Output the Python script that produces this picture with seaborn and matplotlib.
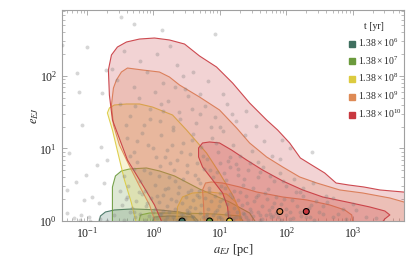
import numpy as np
import pandas as pd
import matplotlib
matplotlib.use("Agg")
import matplotlib.pyplot as plt
from matplotlib.lines import Line2D
import seaborn as sns

# contour outlines as (log10 a_EJ, log10 e_EJ)
times = ["6", "7", "8", "9", "10"]
colors = ["#3f6f5f", "#6b9a3c", "#dccb3f", "#de8a55", "#c8383f"]

teal_outer_loga = [-0.845, -0.799, -0.724, -0.588, -0.317, 0.090, 0.392, 0.573, 0.694]
teal_outer_loge = [-0.1, 0.069, 0.124, 0.152, 0.166, 0.152, 0.124, 0.083, -0.1]
teal_inner_loga = [-0.060, 0.015, 0.241, 0.618, 0.769]
teal_inner_loge = [-0.1, 0.055, 0.069, 0.055, -0.1]

green_outer_loga = [-0.618, -0.618, -0.573, -0.483, -0.362, -0.106, 0.090, 0.317, 0.694, 1.146, 1.448, 1.599]
green_outer_loge = [-0.1, 0.469, 0.621, 0.690, 0.717, 0.731, 0.690, 0.621, 0.441, 0.262, 0.110, -0.1]
green_inner_loga = [-0.241, -0.196, -0.060, 0.392, 0.920, 1.297, 1.418]
green_inner_loge = [-0.1, 0.083, 0.110, 0.110, 0.097, 0.069, -0.1]

yellow_outer_loga = [-0.241, -0.332, -0.437, -0.528, -0.618, -0.694, -0.664, -0.588, -0.407, -0.211,
                     -0.015, 0.287, 0.498, 0.799, 0.995, 1.192, 1.297, 1.342]
yellow_outer_loge = [-0.1, 0.248, 0.566, 0.910, 1.255, 1.490, 1.559, 1.600, 1.614, 1.614,
                     1.572, 1.462, 1.255, 0.938, 0.662, 0.359, 0.152, -0.1]
yellow_inner_loga = [0.347, 0.362, 0.437, 0.588, 0.845, 1.101, 1.237, 1.297, 1.312]
yellow_inner_loge = [-0.1, 0.193, 0.331, 0.386, 0.400, 0.372, 0.262, 0.124, -0.1]

orange_outer_loga = [0.060, -0.060, -0.211, -0.362, -0.513, -0.603, -0.633, -0.603, -0.558, -0.483,
                     -0.392, -0.166, 0.090, 0.241, 0.392, 0.694, 0.995, 1.252, 1.448, 1.704,
                     1.946, 2.202, 2.459, 2.805, 3.152, 3.560, 3.771, 4.2, 4.2]
orange_outer_loge = [-0.1, 0.221, 0.483, 0.759, 1.048, 1.324, 1.600, 1.834, 1.945, 2.055,
                     2.110, 2.083, 2.055, 1.986, 1.876, 1.710, 1.531, 1.283, 1.076, 0.883,
                     0.745, 0.607, 0.524, 0.428, 0.386, 0.317, 0.262, 0.2, -0.1]
orange_inner_loga = [0.769, 0.754, 0.739, 0.784, 0.875, 1.041, 1.297, 1.554, 1.946, 2.308,
                     2.655, 2.881, 2.986, 3.017]
orange_inner_loge = [-0.1, 0.221, 0.428, 0.524, 0.538, 0.524, 0.469, 0.400, 0.331, 0.290,
                     0.221, 0.152, 0.083, -0.1]

red_outer_loga = [0.166, 0.015, -0.136, -0.392, -0.618, -0.664, -0.679, -0.633, -0.543, -0.407,
                  -0.211, 0.015, 0.241, 0.468, 0.694, 0.950, 1.192, 1.448, 1.704, 1.870,
                  2.051, 2.212, 2.383, 2.579, 2.750, 2.935, 3.168, 3.409, 3.756, 4.2, 4.2]
red_outer_loge = [-0.1, 0.221, 0.455, 0.841, 1.393, 1.738, 2.083, 2.290, 2.400, 2.469,
                  2.510, 2.524, 2.497, 2.441, 2.276, 2.124, 1.903, 1.628, 1.393, 1.255,
                  1.076, 0.869, 0.772, 0.662, 0.524, 0.497, 0.469, 0.428, 0.400, 0.37, -0.1]
red_inner_loga = [1.146, 1.116, 1.041, 0.890, 0.739, 0.679, 0.679, 0.739, 0.845, 0.995,
                  1.176, 1.403, 1.644, 1.946, 2.247, 2.549, 2.911, 3.258, 3.484, 3.560,
                  3.484, 3.379]
red_inner_loge = [-0.1, 0.193, 0.386, 0.566, 0.745, 0.883, 1.007, 1.076, 1.090, 1.076,
                  0.979, 0.841, 0.703, 0.552, 0.428, 0.331, 0.262, 0.193, 0.138, 0.083,
                  0.028, -0.1]

# median markers
median_a = [2.7, 7.0, 14.0, 80.0, 200.0]
median_e = [1.0, 1.0, 1.0, 1.35, 1.35]

# ejected binaries (log10 a, log10 e)
scatter_loga = [
    -1.373, -0.995, -1.146, -1.116, -1.071, -1.267, -1.011, -1.161, -1.297, -1.297,
    -0.483, -0.287, 0.121, 0.920, -0.709, -0.769, -0.845, -0.920, -1.041, 1.931,
    2.383, -0.784, -0.694, -0.739, -0.814, -1.086, -0.965, -1.191,
    -0.45, -0.2, 0.05, 0.35, 0.6, -0.55, -0.3, 0.15, 0.48, 0.82, 1.05, -0.1, 0.25, -0.62,
    -0.5, -0.35, -0.22, -0.05, 0.1, 0.22, 0.38, 0.52, 0.64, 0.78, 0.92, 1.1, 1.25, 1.4,
    -0.42, 0.02, 0.3, 0.7, 1.55, 0.15, -0.15, 1.0,
    -0.4, -0.3, -0.18, -0.08, 0.04, 0.12, 0.2, 0.3, 0.36, 0.45, 0.55, 0.6, 0.72, 0.8,
    0.88, 0.97, 1.05, 1.12, 1.2, 1.3, 1.38, 1.48, 1.57, 1.66, 1.78, 1.9, 0.25, -0.25,
    0.65, 1.0, 2.05,
    -0.45, -0.38, -0.3, -0.2, -0.12, -0.05, 0.03, 0.1, 0.17, 0.24, 0.31, 0.38, 0.44, 0.5,
    0.57, 0.63, 0.7, 0.76, 0.83, 0.9, 0.96, 1.02, 1.09, 1.15, 1.22, 1.28, 1.35, 1.42,
    1.5, 1.58, 1.65, 1.73, 1.82, 1.9, 2.0, 2.12, 2.25, 2.4, -0.5, 0.68, 1.25,
    -0.48, -0.4, -0.33, -0.26, -0.18, -0.11, -0.04, 0.02, 0.08, 0.14, 0.2, 0.26, 0.32,
    0.37, 0.43, 0.49, 0.55, 0.6, 0.66, 0.71, 0.77, 0.82, 0.87, 0.93, 0.98, 1.04, 1.1,
    1.15, 1.21, 1.27, 1.33, 1.39, 1.45, 1.52, 1.58, 1.64, 1.71, 1.78, 1.85, 1.92, 2.0,
    2.08, 2.16, 2.25, 2.34, 2.45, 2.55, 2.7, 2.85, 3.0, 0.5, 1.0,
    -0.8, -0.6, -0.45, -0.36, -0.28, -0.2, -0.13, -0.06, 0.0, 0.06, 0.12, 0.18, 0.24,
    0.3, 0.35, 0.41, 0.47, 0.53, 0.58, 0.64, 0.7, 0.75, 0.81, 0.86, 0.92, 0.97, 1.03,
    1.09, 1.14, 1.2, 1.26, 1.31, 1.37, 1.43, 1.5, 1.57, 1.63, 1.7, 1.77, 1.84, 1.92,
    2.0, 2.1, 2.2, 2.3, 2.42, 2.55, 2.7, 2.9, 3.2, -0.95, -1.1, -0.7,
    -0.35, -0.25, -0.15, 0.0, 0.08, 0.18, 0.28, 0.33, 0.42, 0.5, 0.58, 0.67, 0.74,
    0.85, 0.94, 1.06, 1.16, 1.27, 1.36, 1.46, 1.6, 1.75, 1.95, 2.2, 2.6,
    -0.42, -0.3, -0.22, -0.1, 0.05, 0.15, 0.22, 0.34, 0.45, 0.52, 0.62, 0.68, 0.79,
    0.84, 0.95, 1.0, 1.07, 1.12, 1.18, 1.24, 1.3, 1.41, 1.47, 1.55, 1.61, 1.68, 1.74,
    1.81, 1.88, 1.96, 2.05, 2.14, 2.22, 2.38, 2.5, 2.62, 2.78, 3.05, 3.35,
    -0.05, 0.12, 0.4, 0.58, 0.86, 0.32, -0.28, 0.7, 1.18, 0.45,
    0.0, 0.2, 0.4, 0.6, 0.8, 1.0, 1.2, 1.4, 1.6, 1.8, 2.05, 2.35, 0.1, 0.5, 0.9, 1.35, 1.75,
]
scatter_loge = [
    2.428, 2.400, 2.041, 1.779, 1.324, 0.938, 0.634, 0.538, 0.428, 0.110,
    2.814, 2.717, 2.634, 2.579, 2.083, 1.766, 0.772, 0.331, 0.290, 1.117,
    0.952, 1.021, 0.841, 0.524, 0.248, 0.083, 0.055, 0.041,
    2.35, 2.2, 2.3, 2.15, 2.05, 1.95, 1.85, 1.9, 1.82, 1.93, 1.75, 2.05, 2.42, 2.1,
    1.62, 1.45, 1.7, 1.55, 1.38, 1.65, 1.5, 1.72, 1.35, 1.58, 1.44, 1.62, 1.38, 1.52,
    1.33, 1.78, 1.3, 1.48, 1.31, 1.52, 1.32, 1.3,
    1.15, 0.95, 1.22, 1.05, 0.88, 1.18, 0.98, 1.25, 0.84, 1.08, 0.92, 1.2, 1.02, 0.86,
    1.15, 0.95, 1.24, 0.83, 1.05, 0.9, 1.18, 0.97, 0.82, 1.1, 0.9, 0.85, 0.8, 0.82,
    0.8, 0.8, 1.0,
    0.62, 0.48, 0.72, 0.55, 0.42, 0.66, 0.5, 0.76, 0.44, 0.6, 0.7, 0.47, 0.58, 0.77,
    0.43, 0.64, 0.52, 0.72, 0.45, 0.6, 0.68, 0.48, 0.57, 0.75, 0.42, 0.63, 0.5, 0.7,
    0.46, 0.6, 0.74, 0.44, 0.55, 0.66, 0.48, 0.58, 0.45, 0.52, 0.41, 0.41, 0.78,
    0.22, 0.33, 0.18, 0.28, 0.37, 0.2, 0.31, 0.16, 0.26, 0.36, 0.21, 0.3, 0.17,
    0.38, 0.25, 0.33, 0.19, 0.29, 0.36, 0.22, 0.31, 0.16, 0.27, 0.35, 0.2, 0.3, 0.24,
    0.37, 0.18, 0.29, 0.22, 0.34, 0.17, 0.27, 0.36, 0.21, 0.3, 0.19, 0.33, 0.24, 0.16,
    0.29, 0.21, 0.35, 0.18, 0.27, 0.2, 0.31, 0.17, 0.24, 0.15, 0.39,
    0.03, 0.08, 0.02, 0.12, 0.05, 0.1, 0.01, 0.07, 0.13, 0.04, 0.09, 0.02, 0.12,
    0.06, 0.01, 0.1, 0.04, 0.13, 0.07, 0.02, 0.11, 0.05, 0.09, 0.01, 0.13, 0.06, 0.03,
    0.1, 0.07, 0.02, 0.12, 0.05, 0.09, 0.01, 0.07, 0.12, 0.03, 0.08, 0.05, 0.11, 0.02,
    0.08, 0.04, 0.12, 0.06, 0.02, 0.09, 0.05, 0.03, 0.06, 0.0, 0.01, 0.0,
    0.9, 1.1, 0.7, 1.0, 0.62, 0.88, 1.05, 0.55, 0.95, 0.68, 1.12, 0.58, 0.9,
    0.7, 1.08, 0.66, 0.88, 0.72, 0.58, 0.8, 0.68, 0.62, 0.55, 0.4, 0.35,
    0.3, 0.12, 0.4, 0.25, 0.35, 0.14, 0.45, 0.28, 0.08, 0.4, 0.18, 0.33, 0.07,
    0.42, 0.15, 0.28, 0.45, 0.13, 0.33, 0.06, 0.4, 0.25, 0.12, 0.33, 0.08, 0.38, 0.15,
    0.25, 0.06, 0.3, 0.12, 0.4, 0.07, 0.22, 0.12, 0.26, 0.1, 0.15, 0.04,
    1.4, 1.62, 1.4, 1.55, 1.3, 1.85, 1.58, 1.75, 1.48, 2.0,
    0.04, 0.06, 0.03, 0.05, 0.04, 0.06, 0.04, 0.05, 0.02, 0.07, 0.03, 0.05, 0.1, 0.11, 0.08, 0.11, 0.1,
]

contours = [
    (teal_outer_loga, teal_outer_loge, teal_inner_loga, teal_inner_loge),
    (green_outer_loga, green_outer_loge, green_inner_loga, green_inner_loge),
    (yellow_outer_loga, yellow_outer_loge, yellow_inner_loga, yellow_inner_loge),
    (orange_outer_loga, orange_outer_loge, orange_inner_loga, orange_inner_loge),
    (red_outer_loga, red_outer_loge, red_inner_loga, red_inner_loge),
]

sns.set_style("ticks")
plt.rcParams["font.family"] = ["Liberation Serif", "DejaVu Serif"]
plt.rcParams["mathtext.fontset"] = "stix"

fig = plt.figure(figsize=(4.15, 2.64), dpi=100)
ax = fig.add_axes([0.149, 0.163, 0.824, 0.799])

for (oa, oe, ia, ie), c in zip(contours, colors):
    for la, le in [(oa, oe), (ia, ie)]:
        a = 10 ** np.array(la)
        e = 10 ** np.array(le)
        ax.fill(a, e, facecolor=c, alpha=0.22, edgecolor="none", zorder=2)
        ax.plot(np.append(a, a[0]), np.append(e, e[0]), color=c, lw=0.8, alpha=0.9, zorder=2)

pts = pd.DataFrame({"a": 10 ** np.array(scatter_loga), "e": 10 ** np.array(scatter_loge)})
sns.scatterplot(data=pts, x="a", y="e", ax=ax, color="#7a7a7a", alpha=0.3, s=8,
                linewidth=0, zorder=3, legend=False)

med = pd.DataFrame({"a": median_a, "e": median_e, "t": times})
sns.scatterplot(data=med, x="a", y="e", hue="t", palette=colors, ax=ax, s=18,
                edgecolor="black", linewidth=0.8, zorder=4, legend=False)

ax.set_xscale("log")
ax.set_yscale("log")
ax.set_xlim(10 ** -1.38, 10 ** 3.77)
ax.set_ylim(1, 10 ** 2.91)
ax.set_xlabel("$a_{EJ}$ [pc]", fontsize=9, labelpad=1)
ax.set_ylabel("$e_{EJ}$", fontsize=9, labelpad=-1)

for sp in ax.spines.values():
    sp.set_color("#a0a0a0")
    sp.set_linewidth(0.8)
ax.tick_params(which="both", direction="in", top=True, right=True, color="#a0a0a0",
               labelsize=8.5, labelcolor="#222222")
ax.tick_params(which="major", length=3.5, width=0.6)
ax.tick_params(which="minor", length=2, width=0.5)

handles = [Line2D([], [], marker="s", linestyle="none", color=c, markersize=4)
           for c in colors]
labels = [r"$\mathregular{1.38\times10^{%s}}$" % t for t in times]
leg = ax.legend(handles, labels, title="t [yr]", loc="upper right",
                bbox_to_anchor=(1.01, 0.97), frameon=False, fontsize=7,
                title_fontsize=7, handletextpad=0.1, labelspacing=0.55,
                handlelength=1.0, borderaxespad=0.2)

fig.savefig("out.png", dpi=100)
